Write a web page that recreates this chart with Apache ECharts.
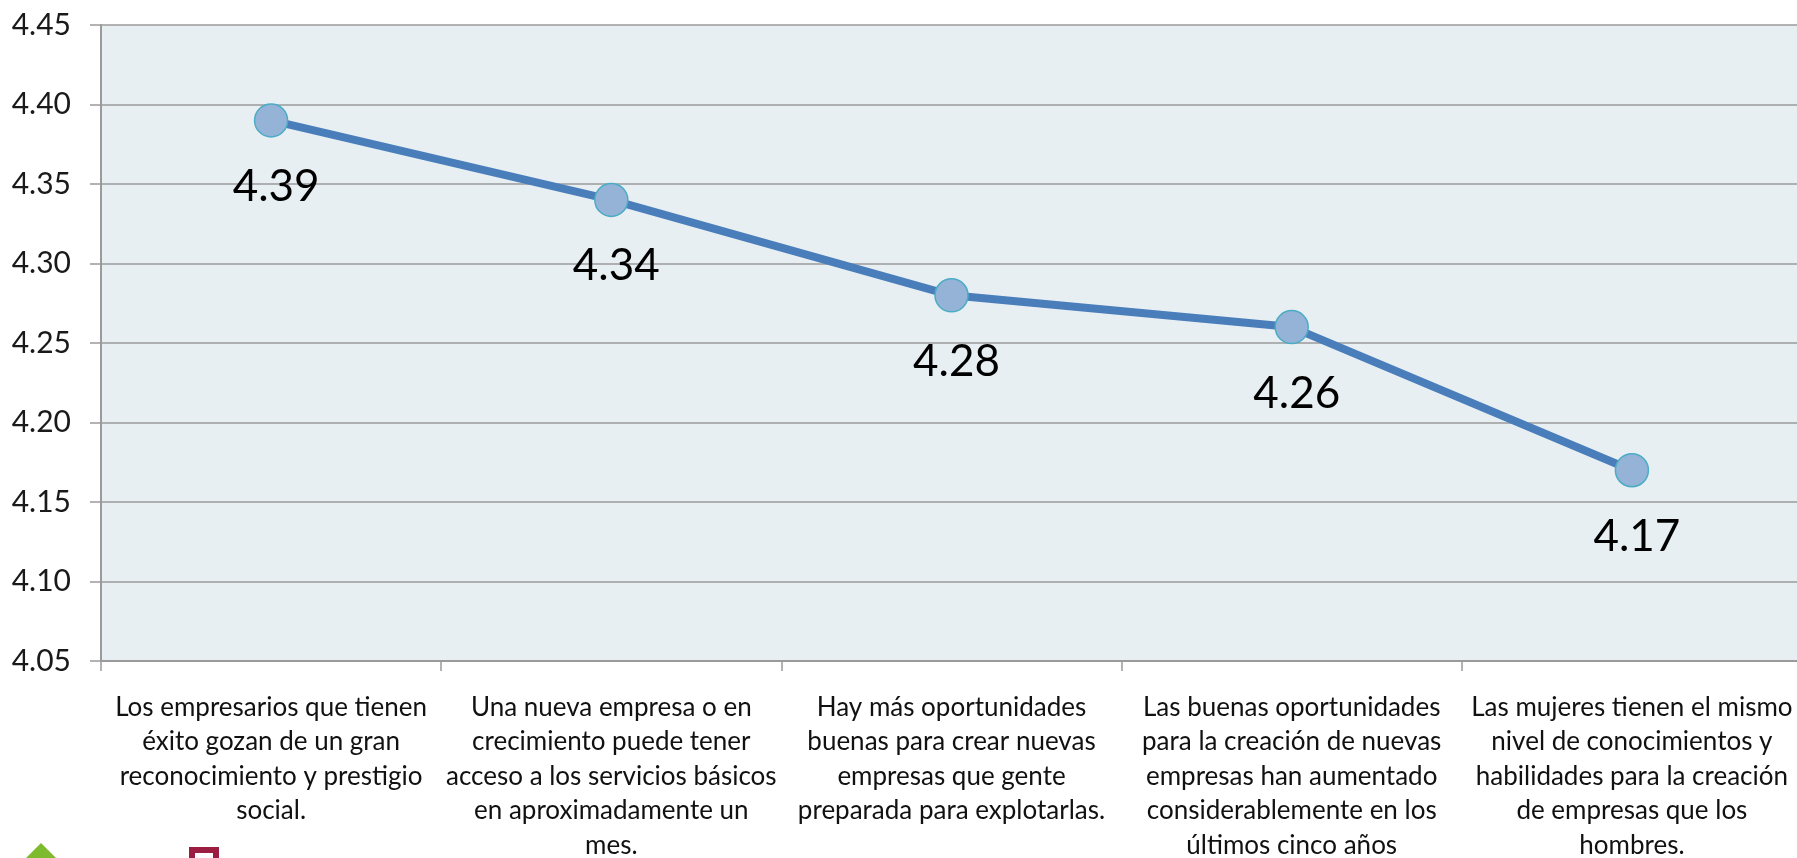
<!DOCTYPE html>
<html>
<head>
<meta charset="utf-8">
<script src="https://cdn.jsdelivr.net/npm/echarts@6/dist/echarts.min.js"></script>
<style>
html,body{margin:0;padding:0;background:#fff;}
#chart{width:1797px;height:858px;}
</style>
</head>
<body>
<div id="chart"></div>
<script>
const categories = [
  "Los empresarios que tienen\néxito gozan de un gran\nreconocimiento y prestigio\nsocial.",
  "Una nueva empresa o en\ncrecimiento puede tener\nacceso a los servicios básicos\nen aproximadamente un\nmes.",
  "Hay más oportunidades\nbuenas para crear nuevas\nempresas que gente\npreparada para explotarlas.",
  "Las buenas oportunidades\npara la creación de nuevas\nempresas han aumentado\nconsiderablemente en los\núltimos cinco años",
  "Las mujeres tienen el mismo\nnivel de conocimientos y\nhabilidades para la creación\nde empresas que los\nhombres."
];
const values = [4.39, 4.34, 4.28, 4.26, 4.17];
const yMin = 4.05, yMax = 4.45, yStep = 0.05;

const chart = echarts.init(document.getElementById('chart'), null, {renderer: 'canvas'});
chart.setOption({
  animation: false,
  backgroundColor: '#ffffff',
  textStyle: {fontFamily: 'Lato'},
  grid: {left: 101, top: 25, width: 1701, bottom: 197, show: true, backgroundColor: '#E8EFF3', borderWidth: 0,
         containLabel: false, outerBoundsMode: 'none'},
  xAxis: {
    type: 'category',
    data: categories,
    boundaryGap: true,
    axisLine: {show: true, lineStyle: {color: '#9a9a9a', width: 2}},
    axisTick: {show: true, length: 10, inside: false, lineStyle: {color: '#9a9a9a', width: 1.5}},
    axisLabel: {interval: 0, margin: 29, fontSize: 26, lineHeight: 34.5, color: '#111', fontFamily: 'Lato', align: 'center'},
    splitLine: {show: false}
  },
  yAxis: {
    type: 'value',
    min: yMin, max: yMax, interval: yStep,
    axisLine: {show: true, lineStyle: {color: '#9a9a9a', width: 2}},
    axisTick: {show: true, length: 11, lineStyle: {color: '#9a9a9a', width: 1.5}},
    axisLabel: {margin: 30, fontSize: 30, color: '#1a1a1a', fontFamily: 'Lato', formatter: v => v.toFixed(2)},
    splitLine: {show: true, lineStyle: {color: '#9a9a9a', width: 1.5}}
  },
  series: [{
    type: 'line',
    data: values,
    symbol: 'circle',
    symbolSize: 33,
    lineStyle: {color: '#4A7EBB', width: 8},
    itemStyle: {color: '#95B3D7', borderColor: '#4BACC6', borderWidth: 1.5},
    label: {
      show: true, position: 'bottom', distance: 30,
      fontSize: 44, lineHeight: 42, color: '#000', fontFamily: 'Lato',
      offset: [5, -2],
      formatter: p => p.value.toFixed(2)
    },
    z: 3
  }],
  graphic: [
    {type: 'polygon', shape: {points: [[41, 843], [56, 858], [26, 858]]}, style: {fill: '#7DBA2E'}},
    {type: 'rect', shape: {x: 192, y: 850, width: 24, height: 14}, style: {fill: 'none', stroke: '#9B1D42', lineWidth: 6}}
  ]
});
</script>
</body>
</html>
